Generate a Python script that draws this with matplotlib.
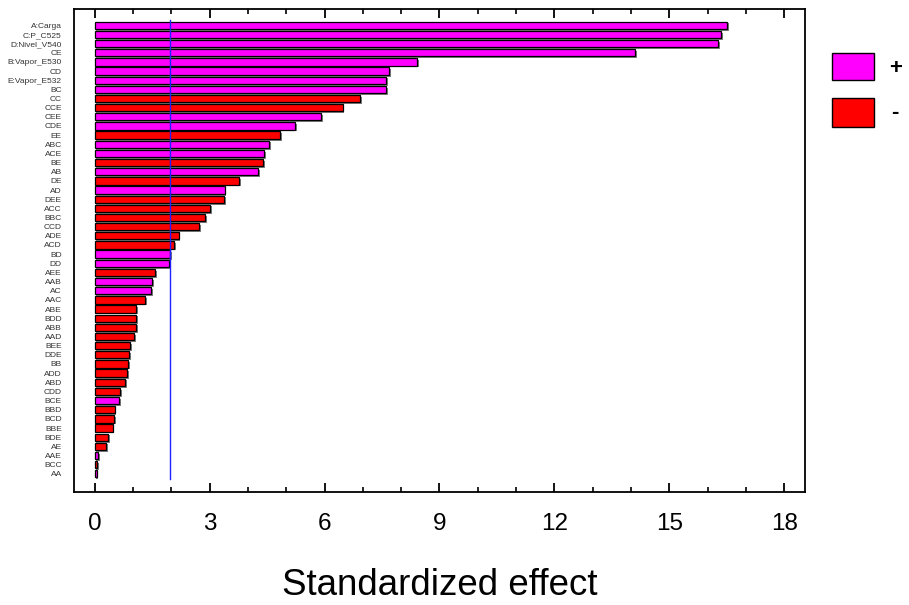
import matplotlib
matplotlib.use("Agg")
import matplotlib.pyplot as plt
from matplotlib.patches import Rectangle
from matplotlib.ticker import MultipleLocator
import matplotlib.patheffects as pe

plt.rcParams['font.family'] = ['Liberation Sans', 'DejaVu Sans']

terms = ["A:Carga", "C:P_C525", "D:Nivel_V540", "CE", "B:Vapor_E530", "CD", "E:Vapor_E532",
         "BC", "CC", "CCE", "CEE", "CDE", "EE", "ABC", "ACE", "BE", "AB", "DE", "AD", "DEE",
         "ACC", "BBC", "CCD", "ADE", "ACD", "BD", "DD", "AEE", "AAB", "AC", "AAC", "ABE",
         "BDD", "ABB", "AAD", "BEE", "DDE", "BB", "ADD", "ABD", "CDD", "BCE", "BBD", "BCD",
         "BBE", "BDE", "AE", "AAE", "BCC", "AA"]
effects = [16.51, 16.35, 16.27, 14.11, 8.42, 7.69, 7.61, 7.61, 6.93, 6.47, 5.91, 5.23, 4.85,
           4.55, 4.42, 4.39, 4.26, 3.78, 3.39, 3.38, 3.01, 2.89, 2.72, 2.19, 2.07, 1.98, 1.93,
           1.57, 1.50, 1.47, 1.32, 1.09, 1.09, 1.08, 1.03, 0.92, 0.90, 0.88, 0.84, 0.80, 0.67,
           0.64, 0.52, 0.50, 0.47, 0.35, 0.30, 0.09, 0.06, 0.05]
signs = ["+", "+", "+", "+", "+", "+", "+", "+", "-", "-", "+", "+", "-", "+", "+", "-", "+",
         "-", "+", "-", "-", "-", "-", "-", "-", "+", "+", "-", "+", "+", "-", "-", "-", "-",
         "-", "-", "-", "-", "-", "-", "-", "+", "-", "-", "-", "-", "-", "+", "-", "+"]
critical_value = 1.97
x_ticks = [0, 3, 6, 9, 12, 15, 18]
legend_labels = ["+", "-"]

POS_COLOR = "#ff00ff"
NEG_COLOR = "#ff0000"

W, H = 909, 605
fig = plt.figure(figsize=(W / 100, H / 100), dpi=100)
ax = fig.add_axes([74.3 / W, 1 - 492 / H, (805 - 74.3) / W, (492 - 9) / H])

ypos = list(range(len(terms)))
colors = [POS_COLOR if s == "+" else NEG_COLOR for s in signs]
bars = ax.barh(ypos, effects, height=0.8, color=colors, edgecolor="black", linewidth=0.9, zorder=2)
for b in bars:
    b.set_path_effects([pe.SimplePatchShadow(offset=(1.3, -1.3), shadow_rgbFace="#808080", alpha=1.0),
                        pe.Normal()])

ax.plot([critical_value, critical_value], [-0.55, len(terms) - 0.45], color="#2020ff", lw=1.0, zorder=3)

ax.set_xlim(-0.53, 18.54)
ax.set_ylim(len(terms) - 1 + 1.99, -1.78)

ax.set_yticks(ypos)
ax.set_yticklabels(terms, fontsize=6.0, color="#333333")
ax.tick_params(axis="y", length=0, pad=9)

ax.set_xticks(x_ticks)
ax.set_xticklabels([str(t) for t in x_ticks], fontsize=17.5)
ax.xaxis.set_minor_locator(MultipleLocator(1))
ax.tick_params(axis="x", which="major", direction="in", length=6.2, width=1.3, top=True, pad=15)
ax.tick_params(axis="x", which="minor", direction="in", length=3.4, width=1.2, top=True)
for sp in ax.spines.values():
    sp.set_linewidth(1.3)

ax.set_xlabel("Standardized effect", fontsize=26.5, labelpad=24)

# legend
def px_rect(x0, y0, x1, y1, color):
    r = Rectangle((x0 / W, 1 - y1 / H), (x1 - x0) / W, (y1 - y0) / H,
                  transform=fig.transFigure, facecolor=color, edgecolor="black", linewidth=1.0)
    fig.add_artist(r)

px_rect(832.3, 52.7, 874, 80, POS_COLOR)
px_rect(832.3, 98.3, 874, 126.7, NEG_COLOR)
fig.text(889 / W, 1 - 68 / H, legend_labels[0], fontsize=16, fontweight="bold", va="center", ha="left")
fig.text(891 / W, 1 - 112 / H, legend_labels[1], fontsize=16, fontweight="bold", va="center", ha="left")

fig.savefig("out.png", dpi=100)
